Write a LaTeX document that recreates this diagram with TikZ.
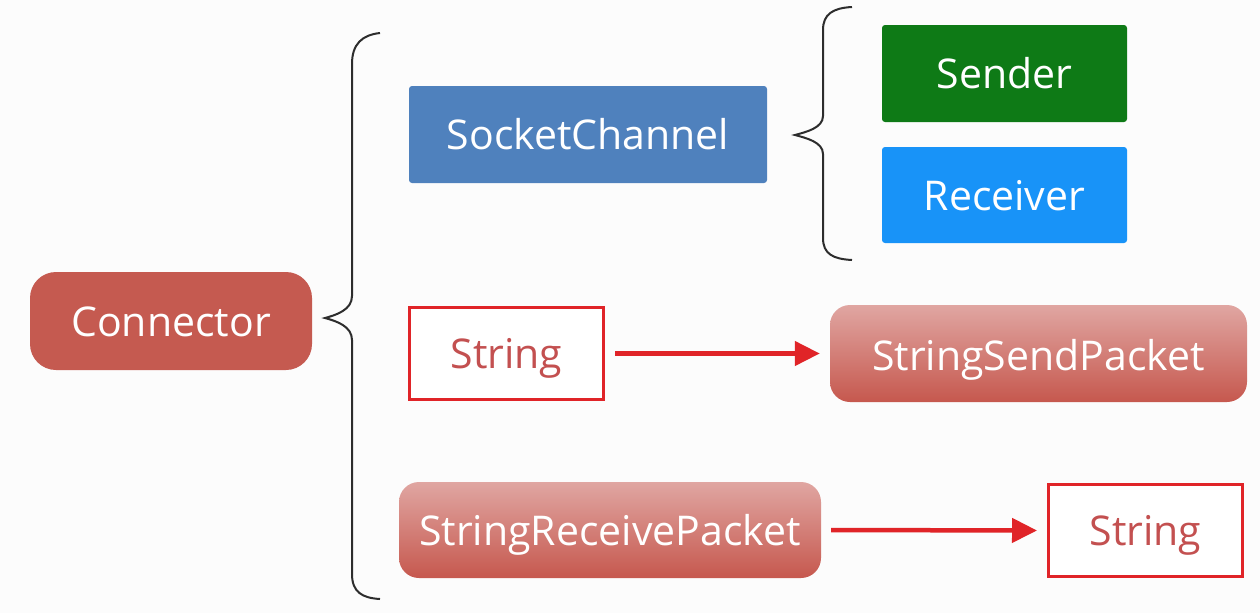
\documentclass[tikz,border=0pt]{standalone}
\usepackage{fontspec}
\setmainfont{Open Sans}
\usetikzlibrary{arrows.meta}
\definecolor{bg}{RGB}{252,252,252}
\definecolor{connred}{RGB}{197,90,80}
\definecolor{scblue}{RGB}{79,129,189}
\definecolor{sndgreen}{RGB}{14,122,22}
\definecolor{rcvblue}{RGB}{24,147,248}
\definecolor{boxred}{RGB}{224,36,40}
\definecolor{strtext}{RGB}{195,80,80}
\definecolor{gradtop}{RGB}{224,166,162}
\definecolor{gradbot}{RGB}{198,88,78}
\definecolor{bracegray}{RGB}{45,45,45}
\tikzset{
  txt/.style={font=\fontsize{41}{49}\selectfont, inner sep=0pt, text height=30pt, text depth=0pt},
  lbl/.style={txt, text=white},
  flatbox/.style={lbl, rounded corners=3pt},
  outlinebox/.style={txt, draw=boxred, line width=3pt, fill=white,
    text=strtext, minimum width=194pt, minimum height=92pt},
  gradbox/.style={lbl, rounded corners=20pt, top color=gradtop, bottom color=gradbot},
  bracepath/.style={draw=bracegray, line width=2pt},
  redarrow/.style={draw=boxred, line width=4.5pt,
    -{Triangle[length=25pt,width=24pt]}, shorten <=10pt, shorten >=10pt}
}
\begin{document}
\begin{tikzpicture}[x=1pt,y=-1pt]
\fill[bg] (0,0) rectangle (1260,613);
\useasboundingbox (0,0) rectangle (1260,613);

% nodes
\node[lbl, fill=connred, rounded corners=26pt, minimum width=282pt, minimum height=98pt] (conn) at (171,321) {Connector};
\node[flatbox, fill=scblue, minimum width=358pt, minimum height=97pt] (sc) at (588,134.5) {SocketChannel};
\node[flatbox, fill=sndgreen, minimum width=245pt, minimum height=97pt] (snd) at (1004.5,73.5) {Sender};
\node[flatbox, fill=rcvblue, minimum width=245pt, minimum height=96pt] (rcv) at (1004.5,195) {Receiver};
\node[outlinebox] (str1) at (506.5,353.5) {String};
\node[gradbox, minimum width=417pt, minimum height=97pt] (ssp) at (1038.5,353.5) {\raisebox{-2pt}{StringSendPacket}};
\node[gradbox, minimum width=422pt, minimum height=96pt] (srp) at (610,530) {StringReceivePacket};
\node[outlinebox] (str2) at (1145.5,530.5) {String};

% braces
\draw[bracepath] (380,33) .. controls (362,35) and (352,44) .. (352,64)
  -- (352,296) .. controls (352,310) and (336,315) .. (325,318)
  .. controls (336,321) and (352,326) .. (352,340)
  -- (352,574) .. controls (352,592) and (362,598) .. (380,599);
\draw[bracepath] (852,7) .. controls (833,8) and (823,14) .. (823,30)
  -- (823,116) .. controls (823,128) and (806,132) .. (795,135)
  .. controls (806,138) and (823,142) .. (823,154)
  -- (823,238) .. controls (823,254) and (833,259) .. (852,260);

% arrows
\draw[redarrow] (str1.east) -- (ssp.west);
\draw[redarrow] (srp.east) -- (str2.west);
\end{tikzpicture}
\end{document}
